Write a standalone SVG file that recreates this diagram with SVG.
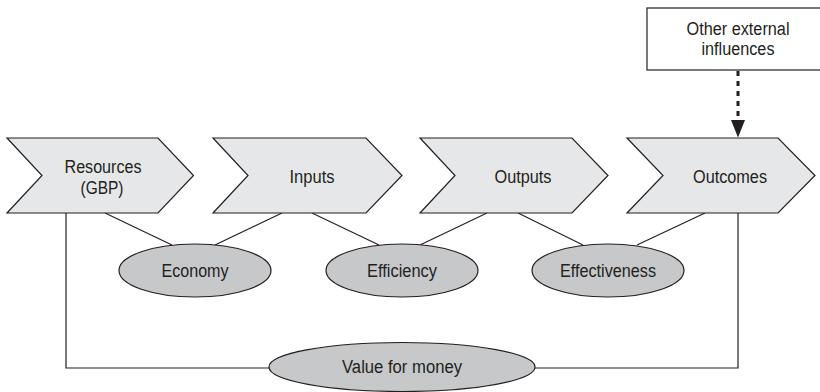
<svg xmlns="http://www.w3.org/2000/svg" width="820" height="392" viewBox="0 0 820 392">
<defs>
<style>
.chev{fill:#e6e7e8;stroke:#231f20;stroke-width:1.2;stroke-linejoin:miter}
.ell{fill:#c7c8ca;stroke:#231f20;stroke-width:1.2}
.box{fill:#ffffff;stroke:#231f20;stroke-width:1.2}
.t{font-family:"Liberation Sans",Arial,sans-serif;font-size:18px;fill:#231f20;text-anchor:middle}
.ln{fill:none;stroke:#231f20;stroke-width:1.2}
.dash{fill:none;stroke:#231f20;stroke-width:3;stroke-dasharray:5 5}
</style>
</defs>
<rect width="820" height="392" fill="#ffffff"/>
<g id="connectors">
<path class="ln" d="M105,213 L172,245"/>
<path class="ln" d="M282,213 L215,245"/>
<path class="ln" d="M312,213 L379,245"/>
<path class="ln" d="M487,213 L420,245"/>
<path class="ln" d="M518,213 L583,245"/>
<path class="ln" d="M705,213 L637,245"/>
<path class="ln" d="M66,213 L66,368 L270,368"/>
<path class="ln" d="M738,213 L738,368 L535,368"/>
<path class="dash" d="M738,71 L738,120"/>
<path d="M731,120 L745,120 L738,137.5 Z" fill="#231f20"/>
</g>
<g id="resources">
<polygon class="chev" points="7,138 158,138 193.5,175.5 158,213 7,213 42,175.5"/>
<text class="t" x="103" y="173" textLength="77" lengthAdjust="spacingAndGlyphs">Resources</text>
<text class="t" x="102" y="194" textLength="43" lengthAdjust="spacingAndGlyphs">(GBP)</text>
</g>
<g id="inputs">
<polygon class="chev" points="213,138 366,138 402,175.5 366,213 213,213 248,175.5"/>
<text class="t" x="312" y="183" textLength="45" lengthAdjust="spacingAndGlyphs">Inputs</text>
</g>
<g id="outputs">
<polygon class="chev" points="420,138 572,138 608,175.5 572,213 420,213 455,175.5"/>
<text class="t" x="523" y="183" textLength="57" lengthAdjust="spacingAndGlyphs">Outputs</text>
</g>
<g id="outcomes">
<polygon class="chev" points="627,138 778,138 815,175.5 778,213 627,213 663,175.5"/>
<text class="t" x="730" y="183" textLength="74" lengthAdjust="spacingAndGlyphs">Outcomes</text>
</g>
<g id="external">
<rect class="box" x="647" y="8" width="183" height="62"/>
<text class="t" x="738" y="35" textLength="103" lengthAdjust="spacingAndGlyphs">Other external</text>
<text class="t" x="738" y="55" textLength="73" lengthAdjust="spacingAndGlyphs">influences</text>
</g>
<g id="economy">
<ellipse class="ell" cx="195" cy="270.5" rx="76" ry="26.5"/>
<text class="t" x="195" y="276.5" textLength="67" lengthAdjust="spacingAndGlyphs">Economy</text>
</g>
<g id="efficiency">
<ellipse class="ell" cx="402" cy="270.5" rx="76" ry="26.5"/>
<text class="t" x="402" y="276.5" textLength="70" lengthAdjust="spacingAndGlyphs">Efficiency</text>
</g>
<g id="effectiveness">
<ellipse class="ell" cx="608" cy="270.5" rx="76" ry="26.5"/>
<text class="t" x="608" y="276.5" textLength="96" lengthAdjust="spacingAndGlyphs">Effectiveness</text>
</g>
<g id="vfm">
<ellipse class="ell" cx="402" cy="367" rx="133" ry="24.5"/>
<text class="t" x="402" y="373" textLength="120" lengthAdjust="spacingAndGlyphs">Value for money</text>
</g>
</svg>
